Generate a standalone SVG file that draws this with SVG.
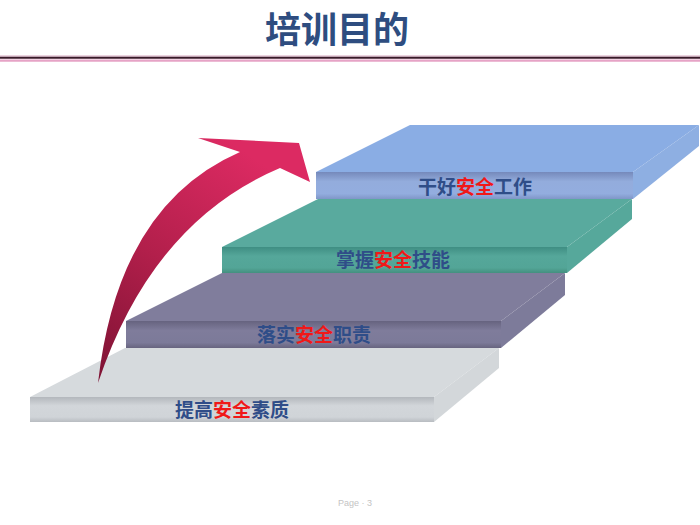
<svg xmlns="http://www.w3.org/2000/svg" width="700" height="525" viewBox="0 0 700 525">
<defs>
<style>
.lbl{font-family:"Liberation Sans","Noto Sans CJK SC",sans-serif;font-weight:bold;font-size:19px;fill:#2f4d88;text-anchor:middle}
.red{fill:#f01818}
.title{font-family:"Liberation Sans","Noto Sans CJK SC",sans-serif;font-weight:bold;font-size:36px;fill:#2e4d80;text-anchor:middle}
.page{font-family:"Liberation Sans","Noto Sans CJK SC",sans-serif;font-size:9px;fill:#c4c4c4;text-anchor:middle}
</style>
<linearGradient id="fBlue" x1="0" y1="0" x2="0" y2="1">
<stop offset="0" stop-color="#7589bb"/><stop offset="0.35" stop-color="#93acdc"/><stop offset="0.8" stop-color="#93addf"/><stop offset="1" stop-color="#7f96c8"/>
</linearGradient>
<linearGradient id="fTeal" x1="0" y1="0" x2="0" y2="1">
<stop offset="0" stop-color="#3f8e83"/><stop offset="0.35" stop-color="#55a79a"/><stop offset="0.8" stop-color="#53a597"/><stop offset="1" stop-color="#44907f"/>
</linearGradient>
<linearGradient id="fPurple" x1="0" y1="0" x2="0" y2="1">
<stop offset="0" stop-color="#66637f"/><stop offset="0.35" stop-color="#7f7c9b"/><stop offset="0.8" stop-color="#7c7a99"/><stop offset="1" stop-color="#67647f"/>
</linearGradient>
<linearGradient id="fGray" x1="0" y1="0" x2="0" y2="1">
<stop offset="0" stop-color="#b3b7bc"/><stop offset="0.35" stop-color="#d2d6da"/><stop offset="0.8" stop-color="#d0d4d8"/><stop offset="1" stop-color="#b8bcc1"/>
</linearGradient>
<linearGradient id="arrowGrad" x1="0" y1="1" x2="0.6" y2="0">
<stop offset="0" stop-color="#7d1233"/><stop offset="0.5" stop-color="#b21f4b"/><stop offset="1" stop-color="#dc2a62"/>
</linearGradient>
</defs>
<rect width="700" height="525" fill="#ffffff"/>
<text class="title" x="337" y="43">培训目的</text>
<line x1="0" y1="56" x2="700" y2="56" stroke="#d8a8c0" stroke-width="1"/>
<line x1="0" y1="57.8" x2="700" y2="57.8" stroke="#3b1a2a" stroke-width="2"/>
<line x1="0" y1="60.6" x2="700" y2="60.6" stroke="#e6a3c6" stroke-width="2.4"/>

<g id="step1">
<polygon points="30,397 125,348 499,348 434,397" fill="#d6dadd"/>
<polygon points="434,397 499,348 499,368 434,422" fill="#d3d7da"/>
<rect x="30" y="397" width="404" height="25" fill="url(#fGray)"/>
<text class="lbl" x="232" y="417">提高<tspan class="red">安全</tspan>素质</text>
</g>
<g id="step2">
<polygon points="126,321 222,273 565,273 501,321" fill="#807d9c"/>
<polygon points="501,321 565,273 565,295 501,348" fill="#7d7b9a"/>
<rect x="126" y="321" width="375" height="27" fill="url(#fPurple)"/>
<text class="lbl" x="314" y="342">落实<tspan class="red">安全</tspan>职责</text>
</g>
<g id="step3">
<polygon points="222,247 318,199 632,199 567,247" fill="#59aa9e"/>
<polygon points="567,247 632,199 632,219 567,273" fill="#56a89b"/>
<rect x="222" y="247" width="345" height="26" fill="url(#fTeal)"/>
<text class="lbl" x="393" y="267">掌握<tspan class="red">安全</tspan>技能</text>
</g>
<g id="step4">
<polygon points="316,172 410,125 699,125 633,172" fill="#8aade4"/>
<polygon points="633,172 699,125 699,146 633,199" fill="#8eafe2"/>
<rect x="316" y="172" width="317" height="27" fill="url(#fBlue)"/>
<text class="lbl" x="475" y="194">干好<tspan class="red">安全</tspan>工作</text>
</g>

<g id="connectors">
<path d="M98,383 Q118,205 240,152 L198,138 L299,143 L310,182 L280,168 Q152,222 98,383 Z" fill="url(#arrowGrad)"/>
</g>

<text class="page" x="355" y="506">Page · 3</text>
</svg>
